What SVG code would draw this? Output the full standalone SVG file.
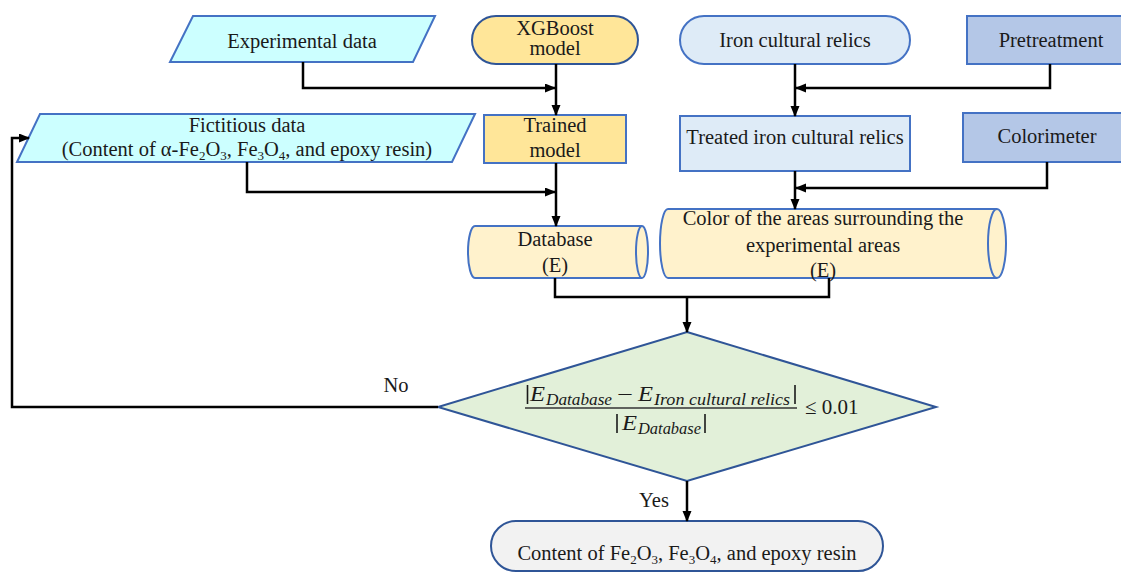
<svg xmlns="http://www.w3.org/2000/svg" width="1121" height="574" viewBox="0 0 1121 574">
<defs>
<marker id="arr" markerUnits="userSpaceOnUse" markerWidth="11" markerHeight="10" refX="10" refY="4.5" orient="auto">
<path d="M0,0 L11,4.5 L0,9 Z" fill="#000"/>
</marker>
<style>
text{font-family:"Liberation Serif","Times New Roman",serif;font-size:20.5px;fill:#1a1a1a;text-anchor:middle}
.sub{font-size:13px}
.m{font-style:italic;text-anchor:start}
.ms{font-style:italic;text-anchor:start;font-size:16px}
.bar{stroke:#1a1a1a;stroke-width:1.6}
.cyan{fill:#CCFFFF;stroke:#4472C4;stroke-width:2}
.orange{fill:#FFE699;stroke:#4472C4;stroke-width:2}
.lblue{fill:#DEEBF7;stroke:#4472C4;stroke-width:2}
.mblue{fill:#B4C7E7;stroke:#4472C4;stroke-width:2}
.cyl{fill:#FFF2CC;stroke:#4472C4;stroke-width:2}
.edge{fill:none;stroke:#000;stroke-width:2.5}
</style>
</defs>
<rect width="1121" height="574" fill="#fff"/>

<g id="experimental-data">
<polygon class="cyan" points="193,16 435,16 413,62 170,62"/>
<text x="302" y="48">Experimental data</text>
</g>

<g id="xgboost-model">
<rect class="orange" x="472" y="16" width="166" height="48" rx="24" style="stroke:#2F5597"/>
<text x="555" y="35">XGBoost</text>
<text x="555" y="55">model</text>
</g>

<g id="iron-cultural-relics">
<rect class="lblue" x="680" y="16" width="230" height="48" rx="24"/>
<text x="795" y="47">Iron cultural relics</text>
</g>

<g id="pretreatment">
<rect class="mblue" x="967" y="16" width="170" height="48"/>
<text x="1051" y="47">Pretreatment</text>
</g>

<g id="fictitious-data">
<polygon class="cyan" points="40,114 475,114 452,162 17,162"/>
<text x="247" y="132">Fictitious data</text>
<text x="247" y="156">(Content of α-Fe<tspan class="sub" dy="4">2</tspan><tspan dy="-4">O</tspan><tspan class="sub" dy="4">3</tspan><tspan dy="-4">, Fe</tspan><tspan class="sub" dy="4">3</tspan><tspan dy="-4">O</tspan><tspan class="sub" dy="4">4</tspan><tspan dy="-4">, and epoxy resin)</tspan></text>
</g>

<g id="trained-model">
<rect class="orange" x="484" y="115" width="142" height="48"/>
<text x="555" y="132">Trained</text>
<text x="555" y="157">model</text>
</g>

<g id="treated-iron-cultural-relics">
<rect class="lblue" x="680" y="116" width="230" height="55"/>
<text x="795" y="144">Treated iron cultural relics</text>
</g>

<g id="colorimeter">
<rect class="mblue" x="963" y="113" width="170" height="49"/>
<text x="1047" y="143">Colorimeter</text>
</g>

<g id="database">
<path class="cyl" d="M475,226 H642 A6,26 0 0 1 642,278 H475 A7,26 0 0 1 475,226 Z"/>
<path class="cyl" d="M642,226 A6,26 0 0 0 642,278" style="fill:none"/>
<text x="555" y="246">Database</text>
<text x="555" y="272">(E)</text>
</g>

<g id="color-areas">
<path class="cyl" d="M668,209 H997 A9,34.5 0 0 1 997,278 H668 A8,34.5 0 0 1 668,209 Z"/>
<path class="cyl" d="M997,209 A9,34.5 0 0 0 997,278" style="fill:none"/>
<text x="823" y="225">Color of the areas surrounding the</text>
<text x="823" y="252">experimental areas</text>
<text x="823" y="277">(E)</text>
</g>

<g id="decision">
<polygon points="687,332 936,407 687,481 438,407" fill="#E2F0D9" stroke="#2F5597" stroke-width="2"/>
<line class="bar" x1="527.5" y1="385" x2="527.5" y2="404"/>
<text class="m" x="530" y="401" textLength="15" lengthAdjust="spacingAndGlyphs">E</text>
<text class="ms" x="546" y="405" textLength="66" lengthAdjust="spacingAndGlyphs">Database</text>
<text class="m" x="617" y="401" style="font-style:normal" textLength="16" lengthAdjust="spacingAndGlyphs">−</text>
<text class="m" x="638" y="401" textLength="15" lengthAdjust="spacingAndGlyphs">E</text>
<text class="ms" x="654" y="405" textLength="136" lengthAdjust="spacingAndGlyphs">Iron cultural relics</text>
<line class="bar" x1="795" y1="385" x2="795" y2="404"/>
<line x1="525" y1="408" x2="797" y2="408" stroke="#333" stroke-width="1.5"/>
<line class="bar" x1="617" y1="414" x2="617" y2="433"/>
<text class="m" x="622" y="430" textLength="15" lengthAdjust="spacingAndGlyphs">E</text>
<text class="ms" x="638" y="434" textLength="63" lengthAdjust="spacingAndGlyphs">Database</text>
<line class="bar" x1="705" y1="414" x2="705" y2="433"/>
<text class="m" x="805" y="414" style="font-style:normal;font-size:21px">≤ 0.01</text>
</g>

<g id="result">
<rect x="491" y="521" width="392" height="50" rx="25" fill="#F2F2F2" stroke="#2F5597" stroke-width="2"/>
<text x="687" y="560">Content of Fe<tspan class="sub" dy="4">2</tspan><tspan dy="-4">O</tspan><tspan class="sub" dy="4">3</tspan><tspan dy="-4">, Fe</tspan><tspan class="sub" dy="4">3</tspan><tspan dy="-4">O</tspan><tspan class="sub" dy="4">4</tspan><tspan dy="-4">, and epoxy resin</tspan></text>
</g>

<g id="connectors">
<path class="edge" d="M303,62 V88 H555" marker-end="url(#arr)"/>
<path class="edge" d="M556,64 V115" marker-end="url(#arr)"/>
<path class="edge" d="M247,162 V192 H555" marker-end="url(#arr)"/>
<path class="edge" d="M556,163 V226" marker-end="url(#arr)"/>
<path class="edge" d="M795,64 V116" marker-end="url(#arr)"/>
<path class="edge" d="M1050,64 V88 H796" marker-end="url(#arr)"/>
<path class="edge" d="M795,171 V209" marker-end="url(#arr)"/>
<path class="edge" d="M1047,162 V188 H796" marker-end="url(#arr)"/>
<path class="edge" d="M555,278 V297 H829 V278"/>
<path class="edge" d="M687,297 V332" marker-end="url(#arr)"/>
<path class="edge" d="M438,407 H12 V138 H29" marker-end="url(#arr)"/>
<path class="edge" d="M687,481 V521" marker-end="url(#arr)"/>
<text x="396" y="392">No</text>
<text x="654" y="507">Yes</text>
</g>
</svg>
